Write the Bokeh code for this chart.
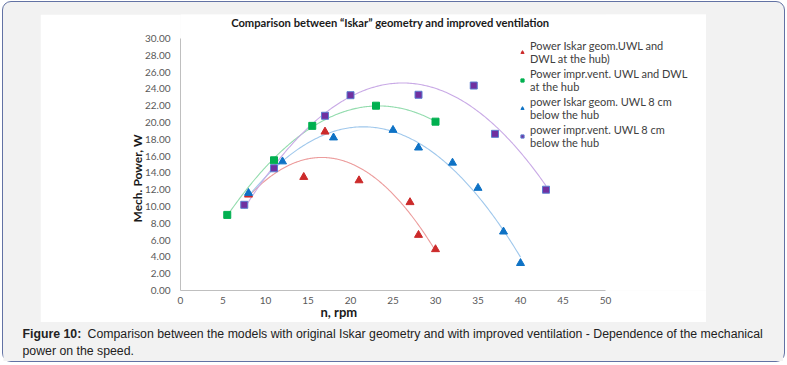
import numpy as np
from bokeh.plotting import figure
from bokeh.models import (Range1d, Label, Legend, LegendItem, FixedTicker, PrintfTickFormatter,
                          LinearAxis, BoxAnnotation, Title)
from bokeh.layouts import column
from bokeh.embed import file_html
from bokeh.resources import INLINE

# ---------------- data ----------------
chart_title = "Comparison between \u201cIskar\u201d geometry and improved ventilation"
x_label = "n, rpm"
y_label = "Mech. Power, W"
x_ticks = [0, 5, 10, 15, 20, 25, 30, 35, 40, 45, 50]
y_ticks = [0, 2, 4, 6, 8, 10, 12, 14, 16, 18, 20, 22, 24, 26, 28, 30]

red_n = [8, 14.5, 17, 21, 27, 28, 30]
red_p = [11.4, 13.5, 18.9, 13.1, 10.5, 6.6, 4.9]
green_n = [5.5, 11, 15.5, 23, 30]
green_p = [9.0, 15.5, 19.6, 22.0, 20.1]
blue_n = [8, 12, 18, 25, 28, 32, 35, 38, 40]
blue_p = [11.6, 15.35, 18.2, 19.1, 17.0, 15.2, 12.2, 7.0, 3.25]
purple_n = [7.5, 11, 17, 20, 28, 34.5, 37, 43]
purple_p = [10.2, 14.55, 20.8, 23.25, 23.3, 24.4, 18.65, 12.0]

series_labels = [
    "Power Iskar geom.UWL and\nDWL at the hub)",
    "Power impr.vent. UWL and DWL\nat the hub",
    "power Iskar geom. UWL 8 cm\nbelow the hub",
    "power impr.vent. UWL 8 cm\nbelow the hub",
]
caption_bold = "Figure 10:"
caption_line1 = "Comparison between the models with original Iskar geometry and with improved ventilation - Dependence of the mechanical"
caption_line2 = "power on the speed."

# ---------------- chart ----------------
FONT = "Lato"
X_MAX = 50
Y_MAX = 30
X_VIEW = X_MAX * 526 / 425        # frame reaches under the legend on the right
Y_VIEW = Y_MAX * 276 / 252        # frame reaches up to hold the chart title
p = figure(width=666, height=308, output_backend="svg", toolbar_location=None,
           x_range=Range1d(0, X_VIEW), y_range=Range1d(0, Y_VIEW),
           x_axis_type=None, y_axis_type=None,
           min_border_left=140, min_border_right=0, min_border_top=0, min_border_bottom=32)
p.margin = (12, 0, 0, 37)
p.background_fill_color = "white"
p.border_fill_color = "white"
p.outline_line_color = None
if "frame_align" in p.properties():
    p.frame_align = False

xa = LinearAxis(ticker=FixedTicker(ticks=x_ticks), bounds=(0, X_MAX))
ya = LinearAxis(ticker=FixedTicker(ticks=y_ticks), bounds=(0, Y_MAX),
                formatter=PrintfTickFormatter(format="%.2f"))
for ax in (xa, ya):
    ax.axis_line_color = "#bfbfbf"
    ax.major_tick_line_color = None
    ax.minor_tick_line_color = None
    ax.major_tick_out = 0
    ax.major_tick_in = 0
    ax.minor_tick_out = 0
    ax.major_label_text_font = FONT
    ax.major_label_text_font_size = "10px"
    ax.major_label_text_color = "#595959"
xa.major_label_standoff = 6
ya.major_label_standoff = 10
p.add_layout(xa, "below")
p.add_layout(ya, "left")

# axis titles placed off-centre, as in the original
p.add_layout(Title(text=x_label, align="left", offset=140, standoff=-5.5, vertical_align="top",
                   text_font=FONT, text_font_size="13px", text_font_style="bold",
                   text_color="#1a1a1a"), "below")
p.add_layout(Title(text=y_label, align="left", offset=68, standoff=-6,
                   text_font=FONT, text_font_size="12px", text_font_style="bold",
                   text_color="#1a1a1a"), "left")

p.xgrid.ticker = FixedTicker(ticks=x_ticks)
p.ygrid.ticker = FixedTicker(ticks=y_ticks)
p.xgrid.grid_line_color = "#d9d9d9"
p.ygrid.grid_line_color = "#d9d9d9"

series = [
    (red_n, red_p, "triangle", "#cc2a2a", "#cc2a2a", "#ec9c9c", 8),
    (green_n, green_p, "square", "#00b050", "#00b050", "#93dcae", 7),
    (blue_n, blue_p, "triangle", "#0e72c5", "#0e72c5", "#a0c8ec", 8),
    (purple_n, purple_p, "square", "#7030a0", "#5b7fd0", "#c9aae6", 7),
]
for (xs, ys, mk, fc, lc, tc, sz) in series:
    coef = np.polyfit(xs, ys, 2)
    xt = np.linspace(min(xs), max(xs), 200)
    p.line(xt, np.polyval(coef, xt), line_color=tc, line_width=1.1)
items = []
for (xs, ys, mk, fc, lc, tc, sz), lab in zip(series, series_labels):
    r = p.scatter(xs, ys, marker=mk, size=sz, fill_color=fc, line_color=lc, line_width=1)
    items.append(LegendItem(label=lab, renderers=[r]))

# white out the grid outside the plotted 0-50 x 0-30 area
p.add_layout(BoxAnnotation(left=X_MAX + 0.08, fill_color="white", fill_alpha=1.0, line_color=None))
p.add_layout(BoxAnnotation(bottom=Y_MAX + 0.1, fill_color="white", fill_alpha=1.0, line_color=None))

p.add_layout(Label(x=24.7, y=31.9, text=chart_title, text_align="center", text_baseline="middle",
                   text_font=FONT, text_font_size="11.2px", text_font_style="bold",
                   text_color="#1a1a1a"))

legend = Legend(items=items, location=(338, 141), orientation="vertical",
                label_text_font=FONT, label_text_font_size="11px", label_text_color="#404040",
                label_text_line_height=1.36,
                glyph_width=8, glyph_height=14, label_standoff=4, spacing=2, padding=2, margin=0,
                border_line_color=None, background_fill_color="white", background_fill_alpha=1.0)
p.add_layout(legend, "center")

# ---------------- caption ----------------
cap = figure(width=780, height=39, output_backend="svg", toolbar_location=None,
             x_range=Range1d(0, 780), y_range=Range1d(0, 39),
             x_axis_type=None, y_axis_type=None, min_border=0)
if "frame_align" in cap.properties():
    cap.frame_align = False
cap.grid.visible = False
cap.outline_line_color = None
cap.background_fill_color = "#f2f2f2"
cap.border_fill_color = "#f2f2f2"
CF = "Liberation Sans"
CS = "12.3px"
cap.add_layout(Label(x=19, y=28, text=caption_bold, text_baseline="middle", text_font=CF,
                     text_font_size=CS, text_font_style="bold", text_color="#222222"))
cap.add_layout(Label(x=84, y=28, text=caption_line1, text_baseline="middle", text_font=CF,
                     text_font_size=CS, text_color="#222222"))
cap.add_layout(Label(x=19, y=11, text=caption_line2, text_baseline="middle", text_font=CF,
                     text_font_size=CS, text_color="#222222"))

page = column(p, cap, width=783, margin=(1, 0, 0, 2),
              styles={"background-color": "#f2f2f2", "border": "1px solid #6272a4",
                      "border-radius": "9px", "box-sizing": "border-box"})

open("out.html", "w").write(file_html(page, INLINE))
